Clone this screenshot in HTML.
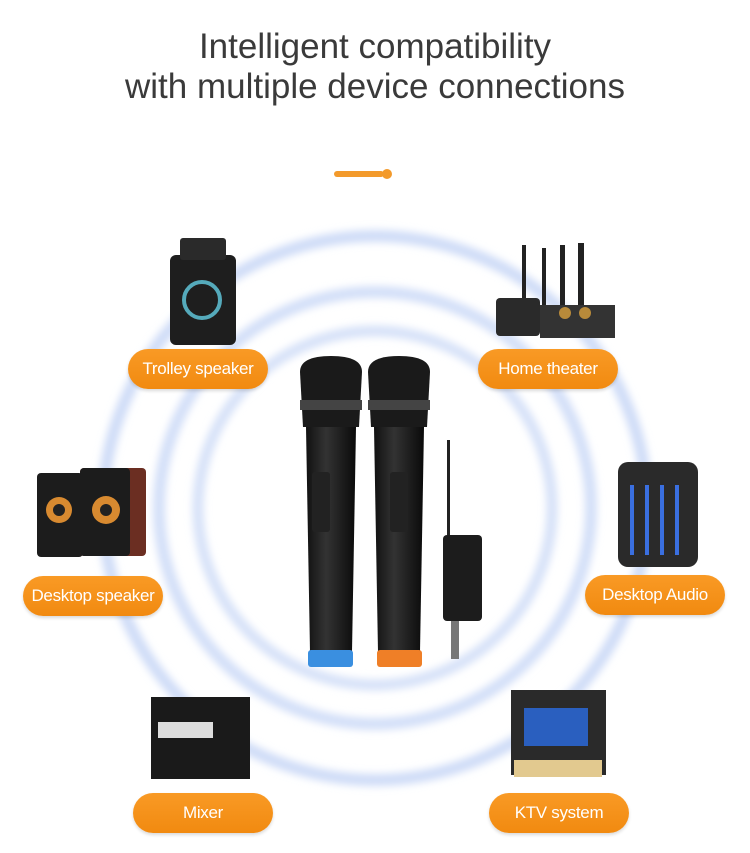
<!DOCTYPE html>
<html><head><meta charset="utf-8"><style>
body{margin:0;width:750px;height:853px;background:#fff;overflow:hidden;position:relative;font-family:"Liberation Sans",sans-serif}
h1{position:absolute;top:27px;left:0;width:750px;margin:0;text-align:center;font-weight:normal;font-size:35px;line-height:40px;color:#3a3a3a}
.pill{position:absolute;width:140px;height:40px;border-radius:20px;background:linear-gradient(#f99a25,#f18a10);color:#fff;font-size:17px;line-height:40px;text-align:center;box-shadow:0 2px 3px rgba(0,0,0,.15);letter-spacing:-0.3px}
svg{position:absolute;left:0;top:0}
</style></head><body>
<svg width="750" height="853">
<defs>
<filter id="b" x="-20%" y="-20%" width="140%" height="140%"><feGaussianBlur stdDeviation="4"/></filter>
<linearGradient id="m" x1="0" x2="1"><stop offset="0" stop-color="#111"/><stop offset=".4" stop-color="#333"/><stop offset="1" stop-color="#0a0a0a"/></linearGradient>
</defs>
<g fill="none" filter="url(#b)">
<circle cx="375" cy="508" r="272" stroke="#cfdcf7" stroke-width="12"/>
<circle cx="375" cy="508" r="216" stroke="#d3dff8" stroke-width="12"/>
<circle cx="375" cy="508" r="177" stroke="#d6e1f8" stroke-width="11"/>
</g>
<rect x="334" y="171" width="50" height="6" rx="3" fill="#f39a2b"/>
<circle cx="387" cy="174" r="5" fill="#f39a2b"/>
<g>
<path d="M300 372q0-16 31-16t31 16l-3 55h-56z" fill="#1a1a1a"/>
<rect x="300" y="400" width="62" height="10" fill="#444"/>
<path d="M306 427h50l-4 225h-42z" fill="url(#m)"/>
<rect x="312" y="472" width="18" height="60" rx="3" fill="#222"/>
<rect x="308" y="650" width="45" height="17" rx="3" fill="#3a8fe0"/>
<path d="M368 372q0-16 31-16t31 16l-3 55h-56z" fill="#1a1a1a"/>
<rect x="368" y="400" width="62" height="10" fill="#444"/>
<path d="M374 427h50l-4 225h-42z" fill="url(#m)"/>
<rect x="390" y="472" width="18" height="60" rx="3" fill="#222"/>
<rect x="377" y="650" width="45" height="17" rx="3" fill="#ef7f27"/>
<rect x="447" y="440" width="3" height="97" fill="#222"/>
<rect x="443" y="535" width="39" height="86" rx="4" fill="#1c1c1c"/>
<rect x="451" y="621" width="8" height="38" fill="#777"/>
</g>
<rect x="170" y="255" width="66" height="90" rx="6" fill="#1e1e1e"/>
<rect x="180" y="238" width="46" height="22" rx="3" fill="#2a2a2a"/>
<circle cx="202" cy="300" r="18" fill="none" stroke="#5ab" stroke-width="4"/>
<rect x="522" y="245" width="4" height="60" fill="#222"/><rect x="542" y="248" width="4" height="58" fill="#222"/><rect x="560" y="245" width="5" height="60" fill="#222"/><rect x="578" y="243" width="6" height="62" fill="#222"/>
<rect x="496" y="298" width="44" height="38" rx="4" fill="#2a2a2a"/><rect x="540" y="305" width="75" height="33" fill="#333"/>
<circle cx="565" cy="313" r="6" fill="#b88a3a"/><circle cx="585" cy="313" r="6" fill="#b88a3a"/>
<rect x="37" y="473" width="46" height="84" rx="4" fill="#1c1c1c"/><rect x="80" y="468" width="66" height="88" rx="4" fill="#6b2e22"/><rect x="80" y="468" width="50" height="88" rx="4" fill="#1c1c1c"/>
<circle cx="59" cy="510" r="13" fill="#d88a30"/><circle cx="59" cy="510" r="6" fill="#222"/>
<circle cx="106" cy="510" r="14" fill="#d88a30"/><circle cx="106" cy="510" r="6" fill="#222"/>
<rect x="618" y="462" width="80" height="105" rx="10" fill="#2a2a2a"/>
<g fill="#3a6fe0"><rect x="630" y="485" width="4" height="70"/><rect x="645" y="485" width="4" height="70"/><rect x="660" y="485" width="4" height="70"/><rect x="675" y="485" width="4" height="70"/></g>
<rect x="151" y="697" width="99" height="82" fill="#1a1a1a"/><rect x="158" y="722" width="55" height="16" fill="#ddd"/>
<rect x="511" y="690" width="95" height="85" fill="#2a2a2a"/><rect x="524" y="708" width="64" height="38" fill="#2a5fbf"/><rect x="514" y="760" width="88" height="17" fill="#e2c98f"/>
</svg>
<h1>Intelligent compatibility<br>with multiple device connections</h1>
<div class="pill" style="left:128px;top:349px">Trolley speaker</div>
<div class="pill" style="left:478px;top:349px">Home theater</div>
<div class="pill" style="left:23px;top:576px">Desktop speaker</div>
<div class="pill" style="left:585px;top:575px">Desktop Audio</div>
<div class="pill" style="left:133px;top:793px">Mixer</div>
<div class="pill" style="left:489px;top:793px">KTV system</div>
</body></html>
